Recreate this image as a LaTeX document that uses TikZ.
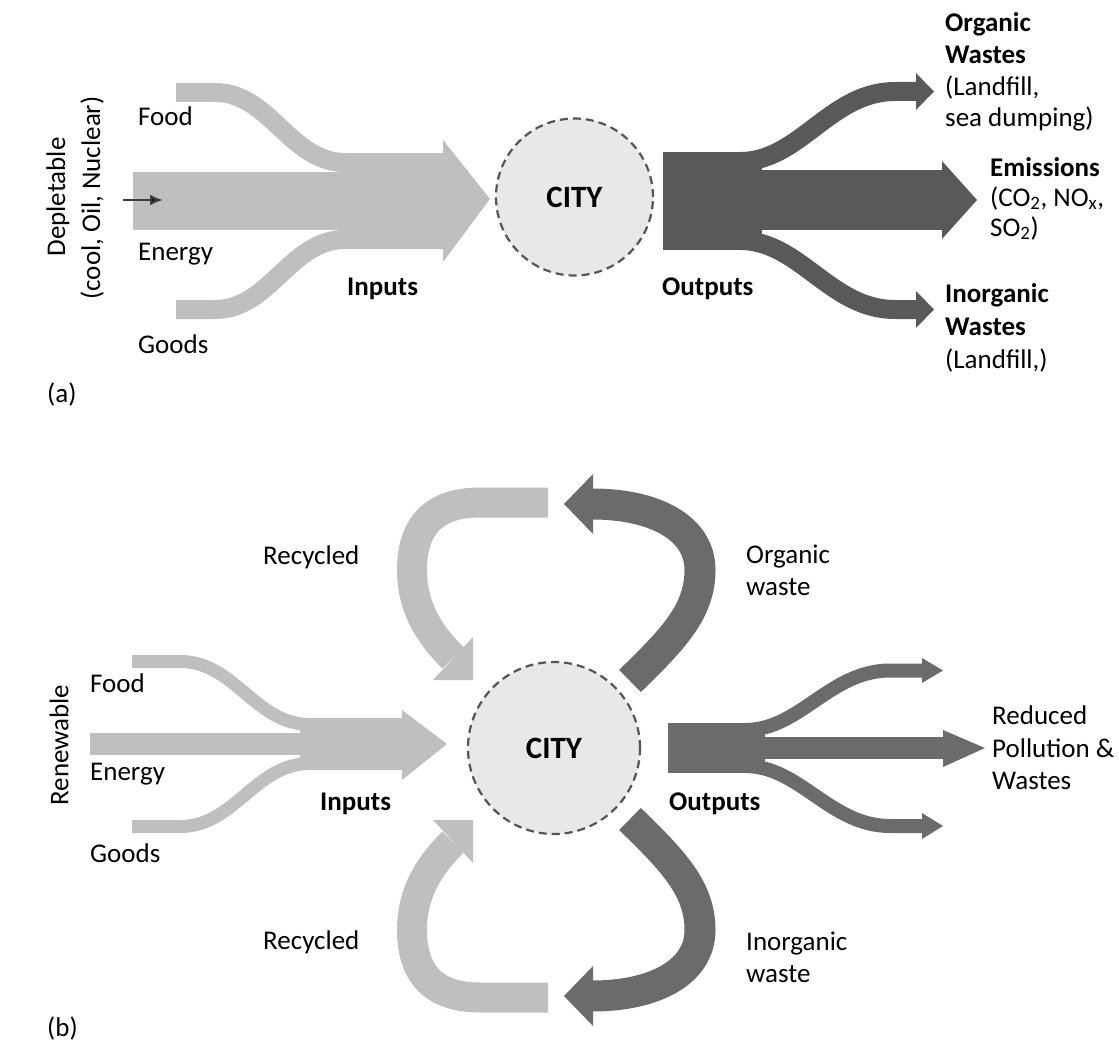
\documentclass[tikz,border=0pt]{standalone}
\usepackage{fontspec}
\setmainfont{Carlito}
\usetikzlibrary{arrows.meta}
\definecolor{lightg}{HTML}{BFBFBF}
\definecolor{darkA}{HTML}{595959}
\definecolor{darkB}{HTML}{6B6B6B}
\definecolor{cityfill}{HTML}{E8E8E8}
\definecolor{cityline}{HTML}{555555}
\definecolor{tinyarrow}{HTML}{3A3A3A}
\begin{document}
\begin{tikzpicture}[x=1pt,y=-1pt,
  txt/.style={font=\fontsize{27}{32}\selectfont, inner sep=0pt, anchor=base west},
  btxt/.style={font=\fontsize{27}{32}\selectfont\bfseries, inner sep=0pt, anchor=base west},
  vtxt/.style={font=\fontsize{27}{32}\selectfont, inner sep=0pt, rotate=90, anchor=center},
  city/.style={circle, draw=cityline, fill=cityfill, line width=2.2pt, dash pattern=on 8pt off 5pt, font=\fontsize{31}{36}\selectfont\bfseries, inner sep=0pt},
  lightband/.style={draw=lightg, line width=#1},
  darkAband/.style={draw=darkA, line width=#1},
  darkBband/.style={draw=darkB, line width=#1},
]
\useasboundingbox (0,0) rectangle (1119,1046);

% ================= (a) =================
% inputs
\draw[lightband=19pt] (176,92.5) -- (215,92.5) .. controls (270,92.5) and (290,162.5) .. (345,162.5);
\draw[lightband=19pt] (176,309.5) -- (215,309.5) .. controls (270,309.5) and (290,239.5) .. (345,239.5);
\fill[lightg] (133,172) rectangle (341,230);
\fill[lightg] (340,153) rectangle (444,249);
\fill[lightg] (443,140) -- (490,199) -- (443,262) -- cycle;
\coordinate (sA) at (123,200);
\coordinate (sB) at (163,200);
\draw[tinyarrow, line width=2.4pt, -{Latex[length=13pt,width=11pt,fill=black]}] (sA) -- (sB);

% outputs
\draw[darkAband=19pt] (740,161.5) .. controls (800,161.5) and (830,91.5) .. (895,91.5) -- (917,91.5);
\draw[darkAband=19pt] (740,240.5) .. controls (800,240.5) and (830,309.5) .. (895,309.5) -- (917,309.5);
\fill[darkA] (663,152) rectangle (762,250);
\fill[darkA] (760,170) rectangle (943,230);
\fill[darkA] (942,161) -- (977,200) -- (942,239) -- cycle;
\fill[darkA] (916,73) -- (934,91.5) -- (916,110) -- cycle;
\fill[darkA] (916,291) -- (934,309.5) -- (916,328) -- cycle;

\node[city, minimum size=157pt] (cityA) at (574.5,197) {CITY};

% texts (a)
\node[vtxt] (deplA) at (58,197) {Depletable};
\node[vtxt] (deplB) at (92,198) {(cool, Oil, Nuclear)};
\node[txt] (foodA) at (138,126) {Food};
\node[txt] (energyA) at (138,260) {Energy};
\node[txt] (goodsA) at (138,353) {Goods};
\node[btxt] (inputsA) at (347,295) {Inputs};
\node[btxt] (outputsA) at (662,295) {Outputs};
\node[txt] (labA) at (47,402) {(a)};

\node[btxt] (orgA1) at (945,32) {Organic};
\node[btxt] (orgA2) at (945,64) {Wastes};
\node[txt] (orgA3) at (945,96) {(Landfill,};
\node[txt] (orgA4) at (945,127) {sea dumping)};
\node[btxt] (emA1) at (990,176) {Emissions};
\node[txt] (emA2) at (990,206) {(CO\textsubscript{2}, NO\textsubscript{x},};
\node[txt] (emA3) at (990,236) {SO\textsubscript{2})};
\node[btxt] (inA1) at (945,302) {Inorganic};
\node[btxt] (inA2) at (945,335) {Wastes};
\node[txt] (inA3) at (945,368) {(Landfill,)};

% ================= (b) =================
% inputs
\draw[lightband=13pt] (132,661.5) -- (180,661.5) .. controls (235,661.5) and (255,724.5) .. (310,724.5);
\draw[lightband=13pt] (132,826.5) -- (180,826.5) .. controls (235,826.5) and (255,763.5) .. (310,763.5);
\fill[lightg] (90,733) rectangle (303,755);
\fill[lightg] (300,718) rectangle (403,770);
\fill[lightg] (402,710) -- (447,744) -- (402,780) -- cycle;

% recycled loops
\draw[lightband=30pt] (548,502.5) -- (480,502.5) .. controls (430,502.5) and (412,530) .. (412,570) .. controls (412,610) and (432,637) .. (453,658);
\fill[lightg] (433,680) -- (473,637) -- (473,680) -- cycle;
\draw[lightband=30pt] (548,997.5) -- (480,997.5) .. controls (430,997.5) and (412,970) .. (412,930) .. controls (412,890) and (432,863) .. (453,842);
\fill[lightg] (433,820) -- (473,863) -- (473,820) -- cycle;

% waste loops
\draw[darkBband=31pt] (630,681) .. controls (672,640) and (700,612) .. (700,570) .. controls (700,528) and (655,504) .. (592,504);
\fill[darkB] (593,474) -- (564,504) -- (593,534) -- cycle;
\draw[darkBband=31pt] (630,819) .. controls (672,860) and (700,888) .. (700,930) .. controls (700,972) and (655,996) .. (592,996);
\fill[darkB] (593,966) -- (564,996) -- (593,1026) -- cycle;

% outputs
\draw[darkBband=14pt] (745,730) .. controls (800,730) and (830,670.5) .. (890,670.5) -- (923,670.5);
\draw[darkBband=14pt] (745,766) .. controls (800,766) and (830,826) .. (890,826) -- (923,826);
\fill[darkB] (668,723) rectangle (765,773);
\fill[darkB] (760,737) rectangle (944,759);
\fill[darkB] (943,730) -- (985,748) -- (943,767) -- cycle;
\fill[darkB] (922,658) -- (943,670.5) -- (922,683) -- cycle;
\fill[darkB] (922,813) -- (943,826) -- (922,839) -- cycle;

\node[city, minimum size=172pt] (cityB) at (554,748) {CITY};

% texts (b)
\node[vtxt] (renew) at (59,745) {Renewable};
\node[txt] (foodB) at (90,692) {Food};
\node[txt] (energyB) at (90,780) {Energy};
\node[txt] (goodsB) at (90,862) {Goods};
\node[btxt] (inputsB) at (320,810) {Inputs};
\node[btxt] (outputsB) at (669,810) {Outputs};
\node[txt] (recB1) at (263,564) {Recycled};
\node[txt] (recB2) at (263,949) {Recycled};
\node[txt] (orgB1) at (746,563) {Organic};
\node[txt] (orgB2) at (746,595) {waste};
\node[txt] (inoB1) at (746,950) {Inorganic};
\node[txt] (inoB2) at (746,982) {waste};
\node[txt] (redB1) at (992,724) {Reduced};
\node[txt] (redB2) at (992,757) {Pollution \&};
\node[txt] (redB3) at (992,789) {Wastes};
\node[txt] (labB) at (47,1036) {(b)};
\end{tikzpicture}
\end{document}
